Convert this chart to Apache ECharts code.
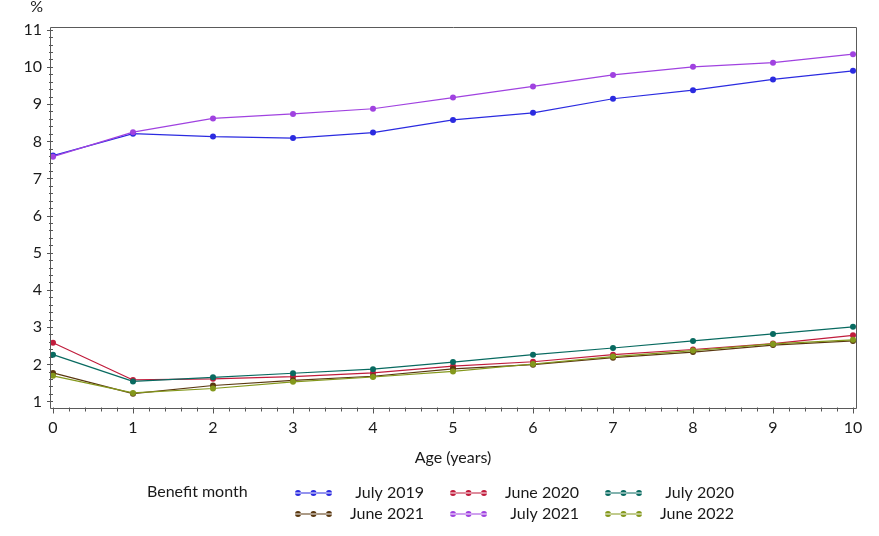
<!DOCTYPE html>
<html>
<head>
<meta charset="utf-8">
<script src="https://cdn.jsdelivr.net/npm/echarts@6/dist/echarts.min.js"></script>
<style>
  html, body { margin: 0; padding: 0; background: #fff; }
  #chart { width: 879px; height: 536px; }
</style>
</head>
<body>
<div id="chart"></div>
<script>
const ages = [0, 1, 2, 3, 4, 5, 6, 7, 8, 9, 10];
const seriesNames = ['July 2019', 'June 2020', 'July 2020', 'June 2021', 'July 2021', 'June 2022'];
const july2019 = [7.62, 8.21, 8.13, 8.09, 8.24, 8.58, 8.77, 9.15, 9.38, 9.67, 9.90];
const june2020 = [2.58, 1.58, 1.61, 1.67, 1.77, 1.95, 2.07, 2.26, 2.40, 2.56, 2.78];
const july2020 = [2.26, 1.54, 1.65, 1.76, 1.87, 2.06, 2.26, 2.44, 2.63, 2.82, 3.01];
const june2021 = [1.77, 1.21, 1.43, 1.57, 1.68, 1.88, 1.99, 2.18, 2.33, 2.52, 2.63];
const july2021 = [7.59, 8.25, 8.62, 8.74, 8.88, 9.18, 9.48, 9.79, 10.01, 10.12, 10.35];
const june2022 = [1.69, 1.23, 1.35, 1.53, 1.66, 1.81, 2.01, 2.21, 2.37, 2.55, 2.66];
const xTicks = { min: 0, max: 10, interval: 1 };
const yTicks = { min: 1, max: 11, interval: 1 };

const values = [july2019, june2020, july2020, june2021, july2021, june2022];
const colors = ['#2b2be0', '#c01c3c', '#086a60', '#5a3810', '#a042e0', '#84981c'];
const FONT = 'Lato, "Noto Sans", sans-serif';
const TXT = '#1a1a1a';
const legendIcon = 'path://M0,3.5L37,3.5L37,4.5L0,4.5Z M0,4a3,3 0 1,0 6,0a3,3 0 1,0 -6,0Z M15.5,4a3,3 0 1,0 6,0a3,3 0 1,0 -6,0Z M31,4a3,3 0 1,0 6,0a3,3 0 1,0 -6,0Z';

const series = seriesNames.map((name, i) => ({
  name: name,
  type: 'line',
  data: ages.map((a, j) => [a, values[i][j]]),
  symbol: 'circle',
  symbolSize: 6,
  showSymbol: true,
  itemStyle: { color: colors[i] },
  lineStyle: { color: colors[i], width: 1.2 },
  emphasis: { disabled: true },
  animation: false
}));

function makeLegend(names, top) {
  return {
    data: names.map(n => ({ name: n, icon: legendIcon })),
    orient: 'horizontal',
    left: 290,
    top: top,
    itemWidth: 37,
    itemHeight: 7,
    itemGap: 26,
    selectedMode: false,
    formatter: n => '{t|' + n + '}',
    textStyle: {
      color: TXT,
      fontFamily: FONT,
      fontSize: 16,
      rich: { t: { width: 87, align: 'right', fontSize: 16, fontFamily: FONT, color: TXT } }
    }
  };
}

const chart = echarts.init(document.getElementById('chart'), null, { renderer: 'canvas' });
chart.setOption({
  animation: false,
  backgroundColor: '#fff',
  title: {
    text: 'Benefit month',
    left: 147,
    top: 484,
    textStyle: { fontFamily: FONT, fontSize: 16, fontWeight: 'normal', color: TXT },
    padding: 0
  },
  legend: [
    makeLegend(seriesNames.slice(0, 3), 480),
    makeLegend(seriesNames.slice(3, 6), 501)
  ],
  grid: { left: 53, right: 26, top: 30, bottom: 134.5, containLabel: false, outerBoundsMode: 'none' },
  xAxis: {
    type: 'value',
    min: xTicks.min, max: xTicks.max, interval: xTicks.interval,
    offset: 6,
    name: 'Age (years)',
    nameLocation: 'middle',
    nameGap: 42,
    nameMoveOverlap: false,
    nameTextStyle: { fontFamily: FONT, fontSize: 16, color: TXT },
    axisLine: { show: false },
    axisTick: { show: true, length: 6, lineStyle: { color: '#555' } },
    minorTick: { show: true, splitNumber: 5, length: 4, lineStyle: { color: '#555' } },
    axisLabel: { margin: 12, fontFamily: FONT, fontSize: 16, color: TXT },
    splitLine: { show: false }
  },
  yAxis: {
    type: 'value',
    min: yTicks.min, max: yTicks.max, interval: yTicks.interval,
    offset: 3,
    name: '%',
    nameLocation: 'end',
    nameGap: 15,
    nameMoveOverlap: false,
    nameTextStyle: { fontFamily: FONT, fontSize: 16, color: TXT, align: 'right', padding: [0, 10, 0, 0] },
    axisLine: { show: false },
    axisTick: { show: true, length: 6, lineStyle: { color: '#555' } },
    minorTick: { show: true, splitNumber: 5, length: 4, lineStyle: { color: '#555' } },
    axisLabel: { margin: 8, fontFamily: FONT, fontSize: 16, color: TXT },
    splitLine: { show: false }
  },
  graphic: [{
    type: 'rect',
    silent: true,
    z: 10,
    shape: { x: 50.5, y: 27.5, width: 806, height: 381 },
    style: { fill: 'none', stroke: '#5a5a5a', lineWidth: 1 }
  }],
  series: series
});
</script>
</body>
</html>
